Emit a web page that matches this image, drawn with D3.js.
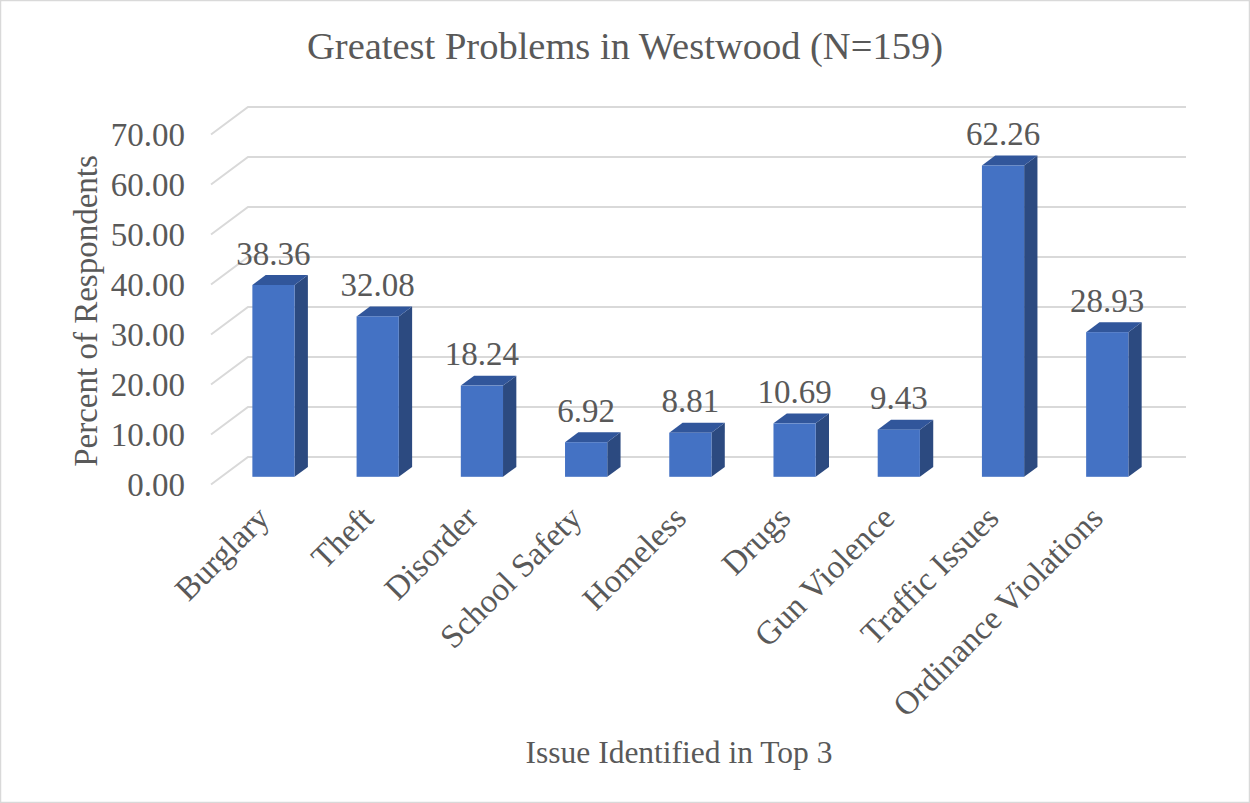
<!DOCTYPE html>
<html>
<head>
<meta charset="utf-8">
<script src="https://cdn.jsdelivr.net/npm/d3@7"></script>
<style>
html,body{margin:0;padding:0;background:#fff;}
svg{display:block;}
text{font-family:"Liberation Serif","Times New Roman",serif;fill:#595959;}
</style>
</head>
<body>
<svg id="chart" width="1250" height="803"></svg>
<script>
const categories = ["Burglary","Theft","Disorder","School Safety","Homeless","Drugs","Gun Violence","Traffic Issues","Ordinance Violations"];
const values = [38.36,32.08,18.24,6.92,8.81,10.69,9.43,62.26,28.93];
const yTicks = [0,10,20,30,40,50,60,70];
const title = "Greatest Problems in Westwood (N=159)";
const xTitle = "Issue Identified in Top 3";
const yTitle = "Percent of Respondents";

const svg = d3.select("#chart");
const W = 1250, H = 803;

// 3D oblique offsets
const DX = 37, DY = -27.5;         // full depth offset (front plane -> back wall)
const fFront = 0.28, fBack = 0.64; // bar depth fraction range

const x = d3.scaleBand().domain(categories).range([211, 1149]).padding(0);
const y = d3.scaleLinear().domain([0,70]).range([484.5, 134.5]);
const barW = x.bandwidth() * 0.405;

// border
svg.append("rect").attr("x",0.5).attr("y",0.5).attr("width",W-1).attr("height",H-1)
  .attr("fill","#fff").attr("stroke","#d9d9d9").attr("stroke-width",1.5);

// gridlines (back wall + side diagonal)
const grid = svg.append("g");
yTicks.forEach(t => {
  const yf = y(t);
  grid.append("path")
    .attr("d", `M${x.range()[0]},${yf} L${x.range()[0]+DX},${yf+DY} L${x.range()[1]+DX},${yf+DY}`)
    .attr("fill","none").attr("stroke","#d9d9d9").attr("stroke-width",2);
});

// y axis tick labels
svg.append("g").selectAll("text").data(yTicks).join("text")
  .attr("x", 185).attr("y", d => y(d)).attr("dy","0.35em")
  .attr("text-anchor","end").style("font-size","33px")
  .text(d => d3.format(".2f")(d));

// bars
const bars = svg.append("g");
categories.forEach((c, i) => {
  const v = values[i];
  const cx = x(c) + x.bandwidth()/2 + fFront*DX;
  const x0 = cx - barW/2, x1 = cx + barW/2;
  const y0 = y(0) + fFront*DY, yt = y(v) + fFront*DY;
  const ddx = (fBack - fFront)*DX, ddy = (fBack - fFront)*DY;
  // side
  bars.append("path")
    .attr("d", `M${x1},${y0} L${x1+ddx},${y0+ddy} L${x1+ddx},${yt+ddy} L${x1},${yt} Z`)
    .attr("fill","#2c4a80");
  // top
  bars.append("path")
    .attr("d", `M${x0},${yt} L${x0+ddx},${yt+ddy} L${x1+ddx},${yt+ddy} L${x1},${yt} Z`)
    .attr("fill","#31569b");
  // front
  bars.append("rect").attr("x", x0).attr("y", yt).attr("width", barW).attr("height", y0-yt)
    .attr("fill","#4472c4");
  // value label
  svg.append("text").attr("x", cx).attr("y", yt + ddy - 10.5)
    .attr("text-anchor","middle").style("font-size","33px")
    .text(d3.format(".2f")(v));
});

// category labels
svg.append("g").selectAll("text").data(categories).join("text")
  .attr("text-anchor","end").style("font-size","33px")
  .attr("transform", d => `translate(${x(d)+x.bandwidth()/2 + 8},${520}) rotate(-45)`)
  .text(d => d);

// title
svg.append("text").attr("x", 625).attr("y", 59).attr("text-anchor","middle")
  .style("font-size","38.5px").text(title);

// axis titles
svg.append("text").attr("x", 679).attr("y", 763).attr("text-anchor","middle")
  .style("font-size","31.5px").text(xTitle);
svg.append("text").attr("transform","translate(97,311) rotate(-90)").attr("text-anchor","middle")
  .style("font-size","33px").text(yTitle);
</script>
</body>
</html>
